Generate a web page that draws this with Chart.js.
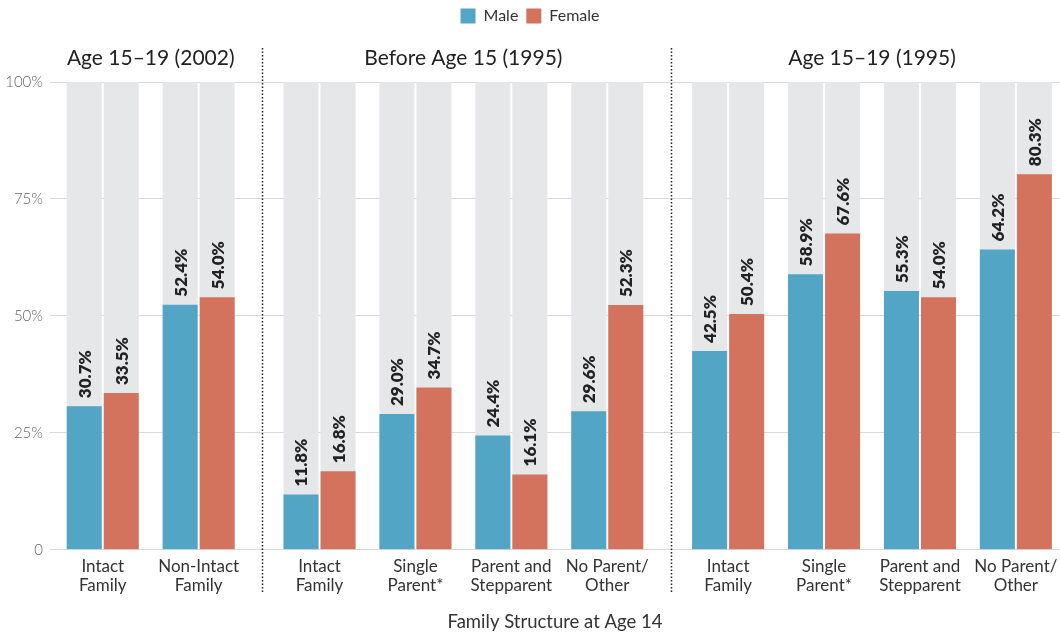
<!DOCTYPE html>
<html>
<head>
<meta charset="utf-8">
<script src="https://cdn.jsdelivr.net/npm/chart.js@4"></script>
<style>
  body { margin: 0; background: #fff; }
  #wrap { width: 1060px; height: 636px; }
</style>
</head>
<body>
<div id="wrap"><canvas id="familyChart"></canvas></div>
<script>
const sections = ["Age 15–19 (2002)", "Before Age 15 (1995)", "Age 15–19 (1995)"];
const categories = [
  ["Intact", "Family"], ["Non-Intact", "Family"],
  ["Intact", "Family"], ["Single", "Parent*"], ["Parent and", "Stepparent"], ["No Parent/", "Other"],
  ["Intact", "Family"], ["Single", "Parent*"], ["Parent and", "Stepparent"], ["No Parent/", "Other"],
];
const sectionOf = [0, 0, 1, 1, 1, 1, 2, 2, 2, 2];
const male = [30.7, 52.4, 11.8, 29.0, 24.4, 29.6, 42.5, 58.9, 55.3, 64.2];
const female = [33.5, 54.0, 16.8, 34.7, 16.1, 52.3, 50.4, 67.6, 54.0, 80.3];
const full = categories.map(() => 100);
const yTicks = [0, 25, 50, 75, 100];

const MALE_COLOR = "#52A5C5";
const FEMALE_COLOR = "#D4735D";
const BG_COLOR = "#E6E7E9";
const FONT = "Lato, 'Open Sans', sans-serif";

// extra room between sections (in category units)
const SECTION_GAP = 0.26;
const xPos = categories.map((c, i) => i + sectionOf[i] * SECTION_GAP);

// value labels, section titles and dotted dividers
const annotate = {
  id: "annotate",
  beforeInit(chart) {
    // push the plot down below the legend to leave room for section titles
    const fit = chart.legend.fit;
    chart.legend.fit = function () {
      fit.bind(chart.legend)();
      this.height += 48;
    };
  },
  afterDatasetsDraw(chart) {
    const ctx = chart.ctx;
    const xs = chart.scales.x;
    const area = chart.chartArea;
    ctx.save();

    // rotated values above each bar
    ctx.fillStyle = "#222";
    ctx.font = "800 17px " + FONT;
    ctx.textAlign = "left";
    ctx.textBaseline = "middle";
    [0, 1].forEach((di) => {
      const values = chart.data.datasets[di].data;
      chart.getDatasetMeta(di).data.forEach((bar, i) => {
        ctx.save();
        ctx.translate(bar.x, bar.y - 8);
        ctx.rotate(-Math.PI / 2);
        ctx.fillText(values[i].toFixed(1) + "%", 0, 1);
        ctx.restore();
      });
    });

    // section titles
    ctx.font = "21px " + FONT;
    ctx.textAlign = "center";
    ctx.fillStyle = "#222";
    sections.forEach((title, s) => {
      const idx = sectionOf.map((v, i) => (v === s ? i : -1)).filter((i) => i >= 0);
      const left = xs.getPixelForValue(xPos[idx[0]]);
      const right = xs.getPixelForValue(xPos[idx[idx.length - 1]]);
      ctx.fillText(title, (left + right) / 2, area.top - 24);
    });

    // dotted dividers between sections
    ctx.strokeStyle = "#222";
    ctx.lineWidth = 1.5;
    ctx.setLineDash([1.5, 2]);
    for (let i = 0; i < xPos.length - 1; i++) {
      if (sectionOf[i] !== sectionOf[i + 1]) {
        const x = Math.round(xs.getPixelForValue(xPos[i] + 0.66)) + 0.5;
        ctx.beginPath();
        ctx.moveTo(x, 48);
        ctx.lineTo(x, 592);
        ctx.stroke();
      }
    }
    ctx.restore();
  },
};

const familyChart = new Chart(document.getElementById("familyChart"), {
  type: "bar",
  data: {
    labels: xPos,
    datasets: [
      { label: "Male", data: male, backgroundColor: MALE_COLOR, stack: "m", order: 1 },
      { label: "Female", data: female, backgroundColor: FEMALE_COLOR, stack: "f", order: 1 },
      { label: "maleBg", data: full, backgroundColor: BG_COLOR, stack: "m", order: 2 },
      { label: "femaleBg", data: full, backgroundColor: BG_COLOR, stack: "f", order: 2 },
    ],
  },
  options: {
    responsive: true,
    maintainAspectRatio: false,
    animation: false,
    categoryPercentage: 0.772,
    barPercentage: 0.946,
    layout: { padding: { top: 0, right: 0, bottom: 1, left: 0 } },
    scales: {
      x: {
        type: "linear",
        min: -0.55,
        max: 9.98,
        offset: false,
        grid: { display: false, drawTicks: false },
        border: { display: false },
        afterBuildTicks: function (scale) {
          scale.ticks = xPos.map((v) => ({ value: v }));
        },
        afterFit: function (scale) {
          // let the last label run to the edge instead of shrinking the plot
          scale.paddingRight = 0;
          scale.paddingLeft = 0;
        },
        ticks: {
          autoSkip: false,
          maxRotation: 0,
          padding: 7,
          color: "#333",
          font: { family: FONT, size: 17, lineHeight: 1.12 },
          callback: function (value, index) {
            return categories[index];
          },
        },
        title: {
          display: true,
          text: "Family Structure at Age 14",
          color: "#333",
          font: { family: FONT, size: 18.5, lineHeight: 1.2 },
          padding: { top: 9, bottom: 2 },
        },
      },
      y: {
        stacked: false,
        min: 0,
        max: 100,
        afterFit: function (scale) {
          scale.width = 50;
        },
        afterBuildTicks: function (scale) {
          scale.ticks = yTicks.map((v) => ({ value: v }));
        },
        grid: { color: "#D9D9D9", drawTicks: false },
        border: { display: false },
        ticks: {
          padding: 7,
          color: "#666",
          font: { family: FONT, size: 15, weight: 300 },
          callback: function (value) {
            return value === 0 ? "0" : value + "%";
          },
        },
      },
    },
    plugins: {
      legend: {
        display: true,
        position: "top",
        labels: {
          boxWidth: 15,
          boxHeight: 15,
          padding: 8,
          color: "#333",
          font: { family: FONT, size: 16 },
          filter: function (item) {
            return item.datasetIndex < 2;
          },
        },
      },
      tooltip: {
        filter: function (item) {
          return item.datasetIndex < 2;
        },
        callbacks: {
          title: function (items) {
            return categories[items[0].dataIndex].join(" ");
          },
        },
      },
    },
  },
  plugins: [annotate],
});
</script>
</body>
</html>
